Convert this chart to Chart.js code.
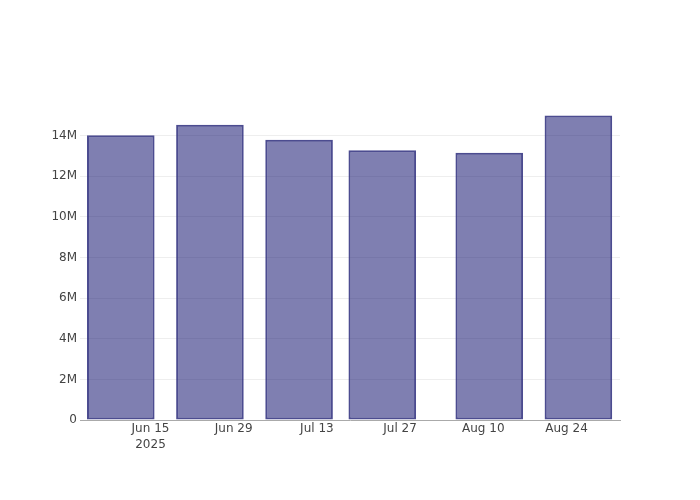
<!DOCTYPE html>
<html>
<head>
<meta charset="utf-8">
<script src="https://cdn.jsdelivr.net/npm/chart.js@4/dist/chart.umd.min.js"></script>
<style>
  html, body { margin: 0; padding: 0; background: #fff; }
  #wrap { width: 700px; height: 500px; }
</style>
</head>
<body>
<div id="wrap"><canvas id="c" width="700" height="500"></canvas></div>
<script>
// ---- data ----
const barDates = ['2025-06-10', '2025-06-25', '2025-07-10', '2025-07-24', '2025-08-11', '2025-08-26'];
const barValues = [14.02e6, 14.54e6, 13.80e6, 13.28e6, 13.16e6, 15.0e6];
const xTickDates = ['2025-06-15', '2025-06-29', '2025-07-13', '2025-07-27', '2025-08-10', '2025-08-24'];
const xTickLabels = [['Jun 15', '2025'], 'Jun 29', 'Jul 13', 'Jul 27', 'Aug 10', 'Aug 24'];
const yTickValues = [0, 2e6, 4e6, 6e6, 8e6, 10e6, 12e6, 14e6];
const yTickLabels = ['0', '2M', '4M', '6M', '8M', '10M', '12M', '14M'];
const xRange = ['2025-06-03T03:20:00Z', '2025-09-02T00:00:00Z'];
const yRange = [0, 15.76e6];

// ---- helpers ----
const DAY = 86400000;
const toDay = s => Date.parse(s.length === 10 ? s + 'T00:00:00Z' : s) / DAY;

const points = barDates.map((d, i) => ({ x: toDay(d), y: barValues[i] }));
const xTicks = xTickDates.map(toDay);

const font = { family: '"DejaVu Sans", Verdana, sans-serif', size: 12, lineHeight: 1.33 };

new Chart(document.getElementById('c'), {
  type: 'bar',
  data: {
    datasets: [{
      data: points,
      backgroundColor: 'rgba(0,0,100,0.5)',
      borderColor: 'rgba(45,45,125,0.85)',
      borderWidth: 2,
      borderSkipped: false,
      categoryPercentage: 1.0,
      barPercentage: 0.8125
    }]
  },
  options: {
    responsive: false,
    animation: false,
    layout: { padding: { left: 0, right: 80, top: 100, bottom: 0 } },
    plugins: { legend: { display: false }, tooltip: { enabled: false } },
    scales: {
      x: {
        type: 'linear',
        offset: false,
        min: toDay(xRange[0]),
        max: toDay(xRange[1]),
        afterBuildTicks: s => { s.ticks = xTicks.map(v => ({ value: v })); },
        afterFit: s => { s.height = 80; },
        grid: { display: false, drawTicks: false, offset: false },
        border: { display: true, color: '#aaa', width: 1 },
        ticks: {
          autoSkip: false,
          maxRotation: 0,
          padding: 1,
          color: '#444',
          font: font,
          callback: (v) => {
            const i = xTicks.indexOf(v);
            return i >= 0 ? xTickLabels[i] : '';
          }
        }
      },
      y: {
        type: 'linear',
        min: yRange[0],
        max: yRange[1],
        afterBuildTicks: s => { s.ticks = yTickValues.map(v => ({ value: v })); },
        afterFit: s => { s.width = 80; },
        grid: {
          drawTicks: false,
          color: ctx => (ctx.tick && ctx.tick.value === 0) ? 'rgba(0,0,0,0)' : '#eeeeee',
          lineWidth: 1
        },
        border: { display: false },
        ticks: {
          padding: 3,
          color: '#444',
          font: font,
          callback: (v) => {
            const i = yTickValues.indexOf(v);
            return i >= 0 ? yTickLabels[i] : '';
          }
        }
      }
    }
  }
});
</script>
</body>
</html>
